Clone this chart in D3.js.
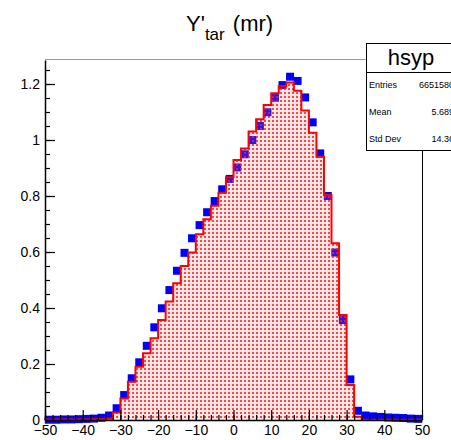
<!DOCTYPE html>
<html>
<head>
<meta charset="utf-8">
<script src="https://cdn.jsdelivr.net/npm/d3@7"></script>
<style>
  body { margin: 0; background: #fff; }
  svg { display: block; font-family: "Liberation Sans", Arial, Helvetica, sans-serif; }
</style>
</head>
<body>
<svg id="chart" width="451" height="440"></svg>
<script>
// bin lower edges, width 2, from -50 to 50
const binEdges = d3.range(-50, 50, 2);
// red filled histogram (per bin)
const redValues = [
    0.002, 0.002, 0.002, 0.002, 0.002, 0.002, 0.003, 0.003,
    0.005, 0.027, 0.077, 0.137, 0.19, 0.238, 0.292, 0.357, 0.423, 0.488,
    0.55, 0.598, 0.663, 0.717, 0.765, 0.812, 0.867, 0.929, 0.97, 1.03,
    1.074, 1.125, 1.167, 1.193, 1.205, 1.176, 1.105, 1.026, 0.94, 0.804,
    0.631, 0.375, 0.125, 0.012,
    0.001, 0.001, 0.001, 0.001, 0.001, 0.001, 0.001, 0.001
];
// blue markers (per bin centre)
const blueValues = [
    0.001, 0.001, 0.002, 0.002, 0.003, 0.004, 0.005,
    0.008, 0.016, 0.042, 0.089, 0.149, 0.206, 0.265, 0.331, 0.399, 0.464,
    0.533, 0.597, 0.649, 0.696, 0.742, 0.782, 0.824, 0.861, 0.902, 0.949,
    1.0, 1.05, 1.099, 1.151, 1.196, 1.226, 1.211, 1.152, 1.063, 0.952,
    0.8, 0.598, 0.357, 0.145, 0.033,
    0.016, 0.013, 0.011, 0.009, 0.008, 0.007, 0.005, 0.004
];
const xMajor = d3.range(-50, 51, 10);
const xMinor = d3.range(-50, 51, 2);
const yMajor = [0, 0.2, 0.4, 0.6, 0.8, 1, 1.2];
const yMinor = d3.range(0, 1.28, 0.05);
const statsLabels = ["Entries", "Mean", "Std Dev"];
const statsValues = ["6651580", "5.689", "14.36"];

const svg = d3.select("#chart");
const padL = 45, padR = 422, padT = 60, padB = 420;

const x = d3.scaleLinear().domain([-50, 50]).range([padL, padR]);
const y = d3.scaleLinear().domain([0, 1.2857]).range([padB, padT]);

// dotted fill pattern
const defs = svg.append("defs");
const pat = defs.append("pattern")
    .attr("id", "dots")
    .attr("patternUnits", "userSpaceOnUse")
    .attr("width", 4)
    .attr("height", 4);
pat.append("rect")
    .attr("width", 4).attr("height", 4)
    .attr("fill", "#ff8080")
    .attr("opacity", 0.18);
pat.append("rect")
    .attr("x", 0).attr("y", 0)
    .attr("width", 2).attr("height", 2)
    .attr("fill", "#ff1a1a")
    .attr("opacity", 0.8);

// blue markers
svg.append("g")
    .selectAll("rect")
    .data(blueValues)
    .join("rect")
    .attr("x", (d, i) => x(binEdges[i] + 1) - 4)
    .attr("y", d => y(d) - 4)
    .attr("width", 8)
    .attr("height", 8)
    .attr("fill", "#0000ff");

// step points for the red histogram
const steps = [];
steps.push([binEdges[0], 0]);
redValues.forEach((v, i) => {
    steps.push([binEdges[i], v]);
    steps.push([binEdges[i] + 2, v]);
});
steps.push([50, 0]);

const stepLine = d3.line().x(d => x(d[0])).y(d => y(d[1]));

svg.append("path")
    .attr("d", stepLine(steps) + "Z")
    .attr("fill", "url(#dots)")
    .attr("stroke", "none");

svg.append("path")
    .attr("d", stepLine(steps))
    .attr("fill", "none")
    .attr("stroke", "#ff0000")
    .attr("stroke-width", 2);

// frame
svg.append("line")
    .attr("x1", padL).attr("x2", padR)
    .attr("y1", padT - 0.5).attr("y2", padT - 0.5)
    .attr("stroke", "#999").attr("stroke-width", 1);
svg.append("line")
    .attr("x1", padR + 0.5).attr("x2", padR + 0.5)
    .attr("y1", padT).attr("y2", padB)
    .attr("stroke", "#000").attr("stroke-width", 1);

// x axis
const xAxis = svg.append("g").attr("transform", `translate(0,${padB})`);
xAxis.call(d3.axisBottom(x).tickValues(xMinor).tickSize(-5).tickFormat(""))
    .call(g => g.select(".domain").remove());
xAxis.append("g")
    .call(d3.axisBottom(x).tickValues(xMajor).tickSize(-10).tickPadding(5).tickSizeOuter(0))
    .call(g => g.select(".domain").attr("stroke-width", 1.5))
    .call(g => g.selectAll("text").attr("font-size", 14).attr("fill", "#000")
        .attr("font-family", "Liberation Sans, Arial, sans-serif"));
xAxis.selectAll("line").attr("stroke", "#000").attr("stroke-width", 1.2);

// y axis
const yAxis = svg.append("g").attr("transform", `translate(${padL},0)`);
yAxis.call(d3.axisLeft(y).tickValues(yMinor).tickSize(-5).tickFormat(""))
    .call(g => g.select(".domain").remove());
yAxis.append("g")
    .call(d3.axisLeft(y).tickValues(yMajor).tickSize(-10).tickPadding(5).tickSizeOuter(0)
        .tickFormat(d => String(+d.toFixed(1))))
    .call(g => g.select(".domain").attr("stroke-width", 1.5))
    .call(g => g.selectAll("text").attr("font-size", 14).attr("fill", "#000")
        .attr("font-family", "Liberation Sans, Arial, sans-serif"));
yAxis.selectAll("line").attr("stroke", "#000").attr("stroke-width", 1.2);

// title
const title = svg.append("text")
    .attr("x", 186)
    .attr("y", 31)
    .attr("font-size", 22)
    .attr("fill", "#000");
title.append("tspan").text("Y'");
title.append("tspan").attr("font-size", 17).attr("dy", 9).text("tar");
title.append("tspan").attr("dy", -9).attr("dx", 2).text(" (mr)");

// stats box
const box = svg.append("g");
box.append("rect")
    .attr("x", 366.5).attr("y", 43.5)
    .attr("width", 100).attr("height", 107)
    .attr("fill", "#fff").attr("stroke", "#000").attr("stroke-width", 1);
box.append("line")
    .attr("x1", 366).attr("x2", 460)
    .attr("y1", 72.5).attr("y2", 72.5)
    .attr("stroke", "#000");
box.append("text")
    .attr("x", 411).attr("y", 65)
    .attr("text-anchor", "middle")
    .attr("font-size", 22)
    .text("hsyp");
box.selectAll("text.lab")
    .data(statsLabels)
    .join("text")
    .attr("class", "lab")
    .attr("x", 369)
    .attr("y", (d, i) => 88 + i * 27)
    .attr("font-size", 9)
    .text(d => d);
box.selectAll("text.val")
    .data(statsValues)
    .join("text")
    .attr("class", "val")
    .attr("x", 454)
    .attr("y", (d, i) => 88 + i * 27)
    .attr("text-anchor", "end")
    .attr("font-size", 9)
    .text(d => d);
</script>
</body>
</html>
